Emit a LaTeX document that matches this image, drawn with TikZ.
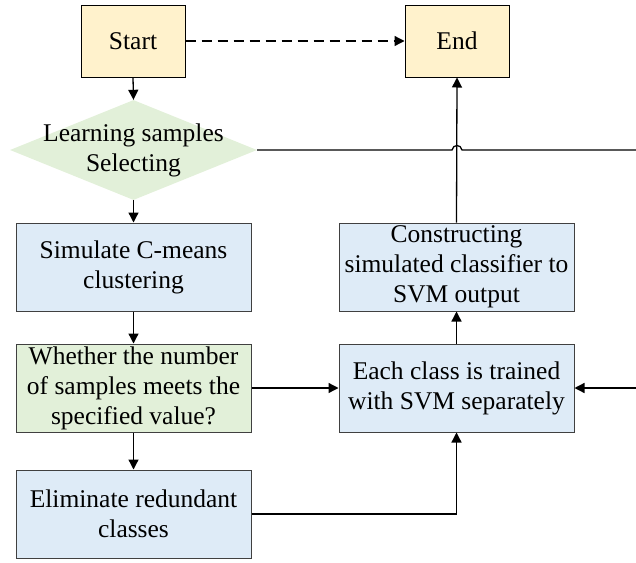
\documentclass[tikz,border=0pt]{standalone}
\usepackage{fontspec}
\setmainfont{Liberation Serif}
\newfontfamily\labelfont{Liberation Serif}
\usetikzlibrary{arrows.meta,shapes.geometric}
\definecolor{termfill}{HTML}{FFF2CC}
\definecolor{procfill}{HTML}{DEEBF7}
\definecolor{decfill}{HTML}{E2F0D9}
\definecolor{boxline}{HTML}{404040}
\begin{document}
\begin{tikzpicture}[x=1pt,y=-1pt,
  every node/.style={font=\labelfont\fontsize{25.5}{30}\selectfont, align=center, inner sep=0pt},
  term/.style={draw=black, line width=1pt, fill=termfill, minimum width=104pt, minimum height=72pt},
  proc/.style={draw=boxline, line width=1pt, fill=procfill, minimum width=235pt, minimum height=88pt},
  cond/.style={draw=boxline, line width=1pt, fill=decfill, minimum width=235pt, minimum height=88pt},
  flow/.style={line width=1.3pt, -{Triangle[length=10pt,width=10pt]}},
  plain/.style={line width=1.3pt}]
\useasboundingbox (0,0) rectangle (636,562);
\clip (0,0) rectangle (636,562);

% terminals
\node[term] (start) at (133,41) {Start};
\node[term] (end) at (457,41) {End};

% decision diamond
\node[diamond, fill=decfill, minimum width=247pt, minimum height=100pt, inner sep=0pt] (dia) at (133.5,150) {};
\node at (dia) {Learning samples\\Selecting};

% left column
\node[proc] (sim) at (133.5,267) {Simulate C-means\\clustering};
\node[cond] (wh) at (133.5,388) {Whether the number\\of samples meets the\\specified value?};
\node[proc] (elim) at (133.5,514) {Eliminate redundant\\classes};

% right column
\node[proc] (cons) at (456.5,267) {Constructing\\simulated classifier to\\SVM output};
\node[proc] (each) at (456.5,388) {Each class is trained\\with SVM separately};

% corner points of the return loop on the right
\coordinate (rtop) at (650,150);
\coordinate (rbot) at (650,388);
\coordinate (hopa) at (452,150);
\coordinate (hopb) at (462,150);

% connectors
\draw[flow, dash pattern=on 10pt off 6pt] (start.east) -- (end.west);
\draw[flow] (start.south) -- (dia.north);
\draw[flow] (dia.south) -- (sim.north);
\draw[flow] (sim.south) -- (wh.north);
\draw[flow] (wh.south) -- (elim.north);
\draw[flow] (wh.east) -- (each.west);
\draw[flow] (elim.east) -| (each.south);
\draw[flow] (each.north) -- (cons.south);
\draw[flow] (cons.north) -- (end.south);
\draw[plain] (dia.east) -- (hopa) .. controls (453,144) and (461,144) .. (hopb) -- (rtop);
\draw[flow] (rtop) -- (rbot) -- (each.east);
\end{tikzpicture}
\end{document}
